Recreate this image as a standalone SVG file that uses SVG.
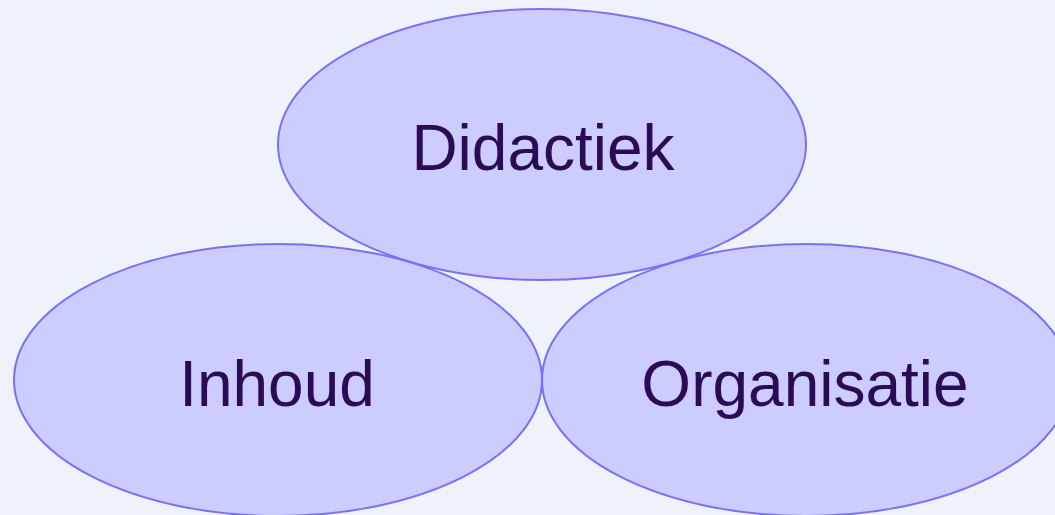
<svg xmlns="http://www.w3.org/2000/svg" width="1055" height="515" viewBox="0 0 1055 515">
<style>
.fill{fill:#CCCCFF;stroke:none}
.edge{fill:none;stroke:#7B70F5;stroke-width:2}
.lbl{font-family:"Liberation Sans",Arial,sans-serif;font-size:64px;fill:#2A0B55;text-anchor:middle}
</style>
<rect width="1055" height="515" fill="#EEF2FA"/>
<g id="didactiek">
<ellipse class="fill" cx="542" cy="144.5" rx="264" ry="135.5"/>
</g>
<g id="inhoud">
<ellipse class="fill" cx="278" cy="380" rx="264" ry="136"/>
</g>
<g id="organisatie">
<ellipse class="fill" cx="806" cy="380" rx="264" ry="136"/>
</g>
<g id="outlines">
<ellipse class="edge" cx="542" cy="144.5" rx="264" ry="135.5"/>
<ellipse class="edge" cx="278" cy="380" rx="264" ry="136"/>
<ellipse class="edge" cx="806" cy="380" rx="264" ry="136"/>
</g>
<g id="labels">
<text class="lbl" x="543" y="170">Didactiek</text>
<text class="lbl" x="277" y="406">Inhoud</text>
<text class="lbl" x="805" y="406">Organisatie</text>
</g>
</svg>
